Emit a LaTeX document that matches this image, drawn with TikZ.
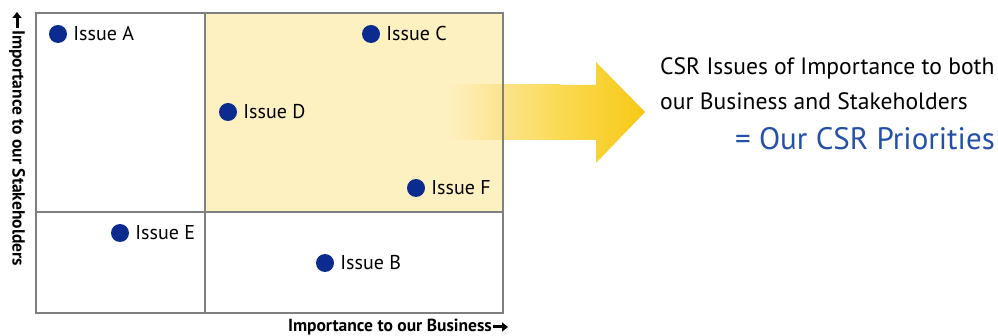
\documentclass[tikz,border=0pt]{standalone}
\usepackage{fontspec}
\setmainfont{PT Sans}
\usetikzlibrary{arrows.meta}
\definecolor{gridline}{HTML}{7F7F7F}
\definecolor{quadfill}{HTML}{FDF1C2}
\definecolor{dotblue}{HTML}{0B2C8E}
\definecolor{prioblue}{HTML}{2450A8}
\definecolor{arrowpale}{HTML}{FCE38C}
\definecolor{arrowmid}{HTML}{FADA52}
\definecolor{arrowgold}{HTML}{F7C814}
\tikzset{
  issue/.style={circle, fill=dotblue, inner sep=0pt, minimum size=18pt},
  issuelabel/.style={anchor=west, inner sep=0pt, font=\fontsize{20}{22}\selectfont},
  axislabel/.style={inner sep=0pt, font=\fontsize{17.5}{19}\selectfont\bfseries},
  axisarrow/.style={-{Triangle[length=6pt,width=9pt]}, line width=3pt},
  grid/.style={draw=gridline, line width=1.3pt},
}
\begin{document}
\begin{tikzpicture}[x=1pt,y=-1pt]
\useasboundingbox (0,0) rectangle (998,336);
% highlighted quadrant
\fill[quadfill] (205,13) rectangle (503,212);
% block arrow, brightening from its tail to its tip
\shade[left color=quadfill, right color=arrowpale] (447,85) rectangle (503.3,140);
\shade[left color=arrowpale, right color=arrowmid] (503,85) rectangle (560.3,140);
\shade[left color=arrowmid, right color=arrowgold]
  (560,85) -- (596,85) -- (596,62) -- (645,112) -- (596,163) -- (596,140) -- (560,140) -- cycle;
% quadrant grid
\draw[grid] (36,13) rectangle (503,313);
\draw[grid] (205,13) -- (205,313);
\draw[grid] (36,212) -- (503,212);
% issues
\node[issue] (a) at (58,34) {};
\node[issuelabel] at ([xshift=6pt]a.east) {Issue A};
\node[issue] (c) at (371,34) {};
\node[issuelabel] at ([xshift=6pt]c.east) {Issue C};
\node[issue] (d) at (228,112) {};
\node[issuelabel] at ([xshift=6pt]d.east) {Issue D};
\node[issue] (f) at (416,188) {};
\node[issuelabel] at ([xshift=6pt]f.east) {Issue F};
\node[issue] (e) at (120,233) {};
\node[issuelabel] at ([xshift=6pt]e.east) {Issue E};
\node[issue] (b) at (325,263) {};
\node[issuelabel] at ([xshift=6pt]b.east) {Issue B};
% axis labels
\node[axislabel, rotate=-90, anchor=west] (ylab) at (17,30) {Importance to our Stakeholders};
\coordinate (ytop) at (17,12);
\draw[axisarrow] (ylab.west) ++(0,-2) -- (ytop);
\node[axislabel, anchor=east] (xlab) at (492,327) {Importance to our Business};
\coordinate (xend) at (508,327);
\draw[axisarrow] (xlab.east) ++(1,0) -- (xend);
% conclusion text
\node[anchor=base west, inner sep=0pt, font=\fontsize{23.6}{26}\selectfont] (t1) at (660,75) {CSR Issues of Importance to both};
\node[anchor=base west, inner sep=0pt, font=\fontsize{23.6}{26}\selectfont] (t2) at (660,110) {our Business and Stakeholders};
\node[anchor=base east, inner sep=0pt, text=prioblue, font=\fontsize{31}{34}\selectfont] (t3) at (995,150) {= Our CSR Priorities};
\end{tikzpicture}
\end{document}
